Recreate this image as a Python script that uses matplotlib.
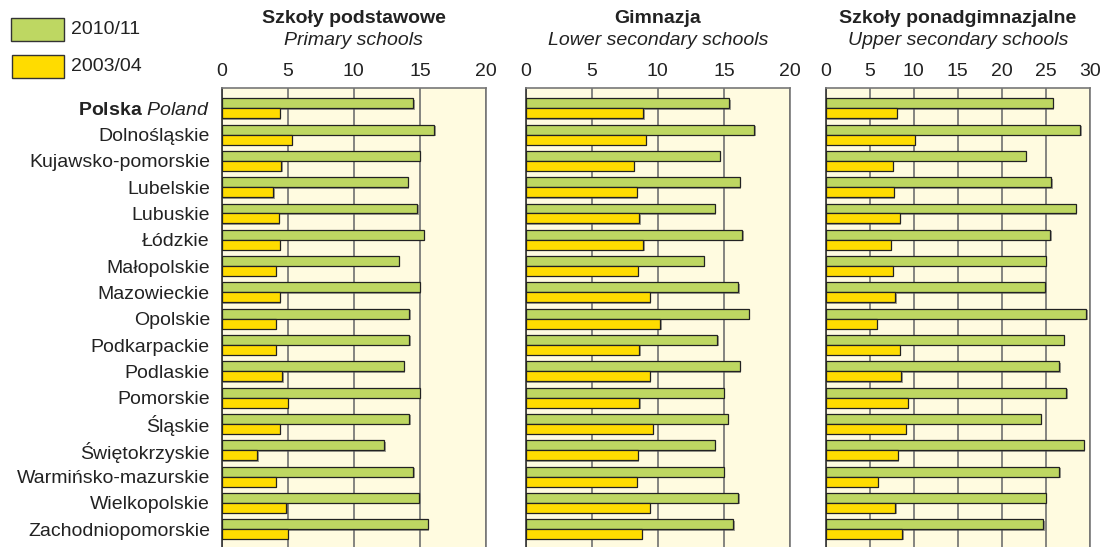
import matplotlib
matplotlib.use("Agg")
import matplotlib.pyplot as plt
import matplotlib.patheffects as pe
from matplotlib.patches import Rectangle
import numpy as np

plt.rcParams['font.family'] = ['Liberation Sans', 'DejaVu Sans']
plt.rcParams['mathtext.fontset'] = 'custom'
plt.rcParams['mathtext.rm'] = 'Liberation Sans'
plt.rcParams['mathtext.bf'] = 'Liberation Sans:bold'
plt.rcParams['mathtext.it'] = 'Liberation Sans:italic'

regions = ["$\\mathbf{Polska}$ $\\mathit{Poland}$", "Dolnośląskie", "Kujawsko-pomorskie",
           "Lubelskie", "Lubuskie", "Łódzkie", "Małopolskie", "Mazowieckie",
           "Opolskie", "Podkarpackie", "Podlaskie", "Pomorskie", "Śląskie",
           "Świętokrzyskie", "Warmińsko-mazurskie", "Wielkopolskie",
           "Zachodniopomorskie"]

series_labels = ["2010/11", "2003/04"]

primary_2010 = [14.5, 16.1, 15.0, 14.1, 14.8, 15.3, 13.4, 15.0, 14.2, 14.2,
                13.8, 15.0, 14.2, 12.3, 14.5, 14.9, 15.6]
primary_2003 = [4.4, 5.3, 4.5, 3.9, 4.3, 4.4, 4.1, 4.4, 4.1, 4.1,
                4.6, 5.0, 4.4, 2.7, 4.1, 4.9, 5.0]

lower_2010 = [15.4, 17.3, 14.7, 16.2, 14.3, 16.4, 13.5, 16.1, 16.9, 14.5,
              16.2, 15.0, 15.3, 14.3, 15.0, 16.1, 15.7]
lower_2003 = [8.9, 9.1, 8.2, 8.4, 8.6, 8.9, 8.5, 9.4, 10.2, 8.6,
              9.4, 8.6, 9.6, 8.5, 8.4, 9.4, 8.8]

upper_2010 = [25.8, 28.9, 22.7, 25.6, 28.4, 25.5, 25.0, 24.9, 29.6, 27.0,
              26.5, 27.3, 24.4, 29.3, 26.5, 25.0, 24.7]
upper_2003 = [8.1, 10.1, 7.6, 7.7, 8.4, 7.4, 7.6, 7.9, 5.8, 8.4,
              8.6, 9.3, 9.1, 8.2, 5.9, 7.9, 8.7]

panel_titles = ["Szkoły podstawowe", "Gimnazja", "Szkoły ponadgimnazjalne"]
panel_subtitles = ["Primary schools", "Lower secondary schools", "Upper secondary schools"]
panel_xmax = [20, 20, 30]
panel_data = [(primary_2010, primary_2003), (lower_2010, lower_2003), (upper_2010, upper_2003)]

GREEN = "#bed762"
YELLOW = "#ffdc00"
BG = "#fffbe0"
EDGE = "#222222"
GRID = "#707070"
TXT = "#222222"

W, H = 1106, 547
fig = plt.figure(figsize=(W / 100, H / 100), dpi=100)

ax_left_px = [221.7, 525.7, 825.7]
ax_w_px = 264.3
ax_top_px = 88.3

bar_h = 0.38
y = np.arange(len(regions))
shadow = [pe.SimplePatchShadow(offset=(1.0, -1.0), shadow_rgbFace="#555555", alpha=0.55), pe.Normal()]

for k in range(3):
    ax = fig.add_axes([ax_left_px[k] / W, 0, ax_w_px / W, 1 - ax_top_px / H])
    ax.set_facecolor(BG)
    v10, v03 = panel_data[k]
    ax.set_axisbelow(True)
    b1 = ax.barh(y - bar_h / 2, v10, height=bar_h, color=GREEN, edgecolor=EDGE, linewidth=0.9, zorder=3)
    b2 = ax.barh(y + bar_h / 2, v03, height=bar_h, color=YELLOW, edgecolor=EDGE, linewidth=0.9, zorder=3)
    for p in list(b1) + list(b2):
        p.set_path_effects(shadow)
    ax.set_xlim(0, panel_xmax[k])
    ax.set_ylim(16.68, -0.76)
    ax.set_xticks(np.arange(0, panel_xmax[k] + 1, 5))
    ax.xaxis.tick_top()
    ax.tick_params(axis='x', length=0, pad=6, labelsize=14, colors=TXT)
    ax.xaxis.grid(True, color=GRID, linewidth=1.2, zorder=0)
    ax.yaxis.grid(False)
    ax.set_yticks(y)
    if k == 0:
        ax.set_yticklabels(regions, fontsize=14, color=TXT)
        ax.tick_params(axis='y', length=0, pad=8.5)
    else:
        ax.set_yticklabels([])
        ax.tick_params(axis='y', length=0)
    ax.spines['left'].set_color("#333333")
    ax.spines['left'].set_linewidth(1.2)
    for s in ['right', 'top']:
        ax.spines[s].set_color("#777777")
        ax.spines[s].set_linewidth(1.2)
    ax.spines['bottom'].set_visible(False)

    xc = (ax_left_px[k] + ax_w_px / 2) / W
    fig.text(xc, 1 - 23.3 / H, panel_titles[k], ha='center', va='baseline',
             fontsize=14, fontweight='bold', color=TXT)
    fig.text(xc, 1 - 44.8 / H, panel_subtitles[k], ha='center', va='baseline',
             fontsize=14, fontstyle='italic', color=TXT)

# legend
leg_colors = [GREEN, YELLOW]
leg_boxes = [(11, 18, 53, 23), (11.5, 55.5, 52.5, 22.5)]
for (x0, y0, w, h), c, lab in zip(leg_boxes, leg_colors, series_labels):
    fig.patches.append(Rectangle((x0 / W, 1 - (y0 + h) / H), w / W, h / H,
                                 transform=fig.transFigure, facecolor=c,
                                 edgecolor="#333333", linewidth=1.0))
    fig.text(71.5 / W, 1 - (y0 + h / 2) / H, lab, ha='left', va='center',
             fontsize=14, color=TXT)

fig.savefig("out.png", dpi=100)
